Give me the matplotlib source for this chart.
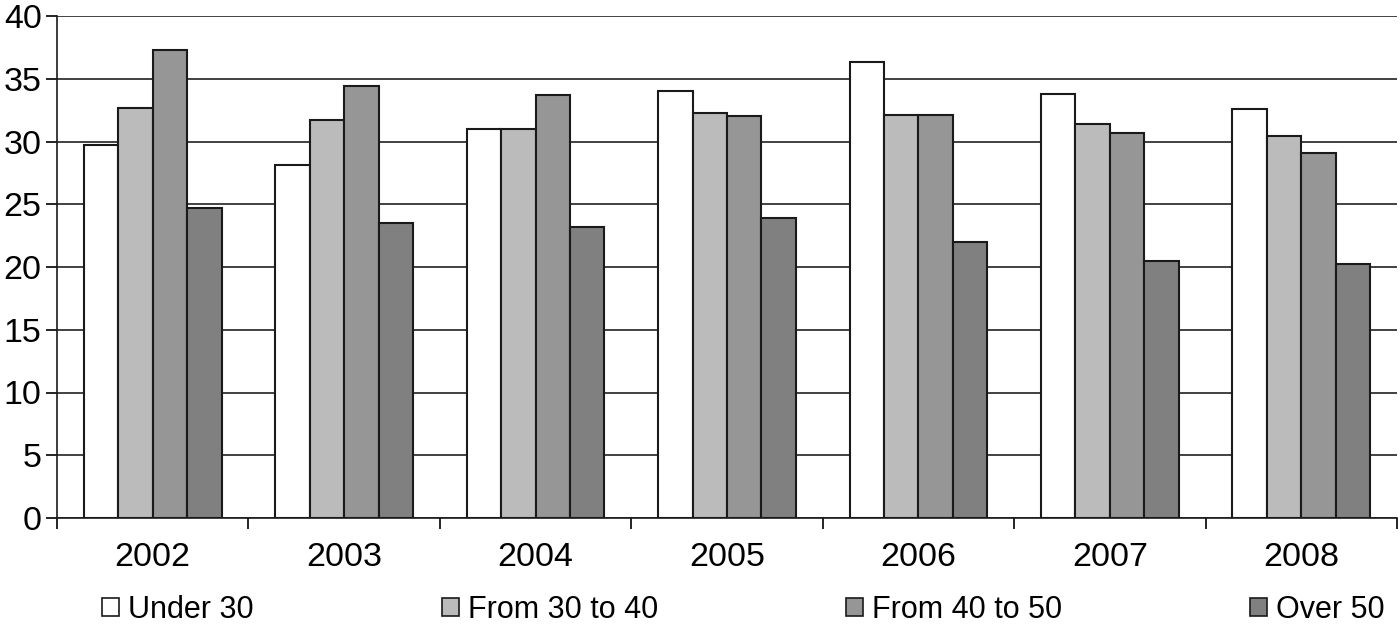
import matplotlib
matplotlib.use("Agg")
import matplotlib.pyplot as plt
import numpy as np
from matplotlib.patches import Rectangle

years = ["2002", "2003", "2004", "2005", "2006", "2007", "2008"]
series_names = ["Under 30", "From 30 to 40", "From 40 to 50", "Over 50"]
under30 = [29.7, 28.1, 31.0, 34.0, 36.3, 33.8, 32.6]
from30to40 = [32.7, 31.7, 31.0, 32.3, 32.1, 31.4, 30.4]
from40to50 = [37.3, 34.4, 33.7, 32.0, 32.1, 30.7, 29.1]
over50 = [24.7, 23.5, 23.2, 23.9, 22.0, 20.5, 20.2]
colors = ["#FFFFFF", "#BBBBBB", "#969696", "#808080"]

plt.rcParams['font.family'] = ['Liberation Sans', 'DejaVu Sans']

fig = plt.figure(figsize=(14, 6.3), dpi=100)
ax = fig.add_axes([57/1400, 112/630, 1340/1400, 502/630])

x = np.arange(len(years))
w = 0.18
data = [under30, from30to40, from40to50, over50]
for i, (vals, c) in enumerate(zip(data, colors)):
    ax.bar(x + (i - 1.5) * w, vals, width=w, color=c, edgecolor="#1a1a1a",
           linewidth=1.5, zorder=3)

ax.set_xlim(-0.5, len(years) - 0.5)
ax.set_ylim(0, 40)
ax.set_yticks(np.arange(0, 41, 5))
ax.yaxis.grid(True, color="#333333", linewidth=1.3, zorder=0)
ax.set_axisbelow(True)

ax.set_xticks(x)
ax.set_xticklabels(years)
ax.set_xticks(np.arange(-0.5, len(years)), minor=True)
ax.tick_params(axis="x", which="major", length=0, pad=17, labelsize=24.5)
ax.tick_params(axis="x", which="minor", length=8, width=1.2, direction="out")
ax.tick_params(axis="y", length=8, width=1.2, direction="out", pad=3, labelsize=24.5)

for s in ["top", "right"]:
    ax.spines[s].set_visible(False)
for s in ["left", "bottom"]:
    ax.spines[s].set_linewidth(1.2)
    ax.spines[s].set_color("#1a1a1a")

handles = [Rectangle((0, 0), 1, 1, facecolor=c, edgecolor="#1a1a1a", linewidth=1.2)
           for c in colors]
fig.legend(handles, series_names, loc="center left", ncol=4, mode="expand",
           bbox_to_anchor=(102/1400, 20/630, 1283/1400, 0.001), frameon=False,
           fontsize=22, handlelength=0.55, handleheight=0.55, handletextpad=0.3,
           borderaxespad=0, borderpad=0)

fig.savefig("out.png", dpi=100)
